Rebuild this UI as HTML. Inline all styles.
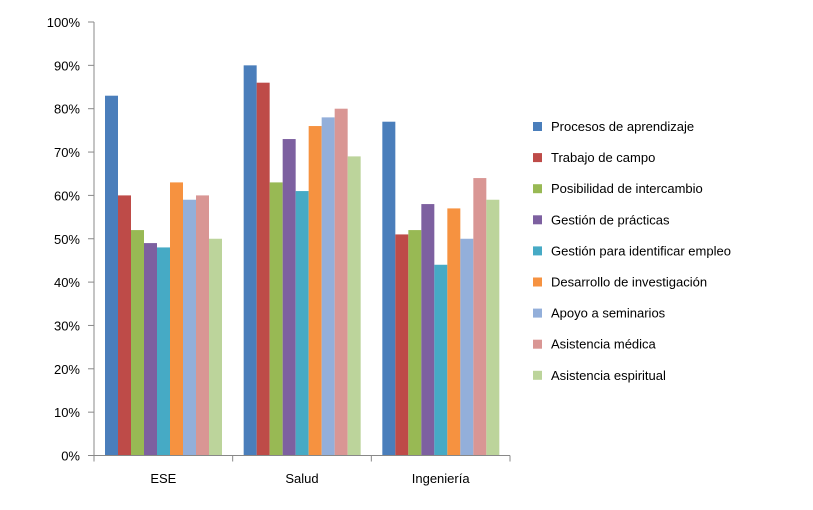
<!DOCTYPE html>
<html><head><meta charset="utf-8"><style>
body{margin:0;background:#fff;font-family:"Liberation Sans",sans-serif}
svg text{font-family:"Liberation Sans",sans-serif;font-size:13px;fill:#000}
</style></head><body>
<svg id="c" width="813" height="505"></svg>
<script>
const categories=["ESE","Salud","Ingeniería"];
const seriesNames=["Procesos de aprendizaje","Trabajo de campo","Posibilidad de intercambio","Gestión de prácticas","Gestión para identificar empleo","Desarrollo de investigación","Apoyo a seminarios","Asistencia médica","Asistencia espiritual"];
const s1=[83,90,77];
const s2=[60,86,51];
const s3=[52,63,52];
const s4=[49,73,58];
const s5=[48,61,44];
const s6=[63,76,57];
const s7=[59,78,50];
const s8=[60,80,64];
const s9=[50,69,59];
const yTicks=[0,10,20,30,40,50,60,70,80,90,100];
const series=[s1,s2,s3,s4,s5,s6,s7,s8,s9];
const colors=["#4A7EBB","#BE4B48","#98B954","#7D60A0","#46AAC5","#F69240","#93AFDA","#D99694","#BCD49B"];
const svg=document.getElementById('c');const NS="http://www.w3.org/2000/svg";
function mk(t,a,p){const e=document.createElementNS(NS,t);for(const k in a)e.setAttribute(k,a[k]);(p||svg).appendChild(e);return e;}
const x0=94,x1=510,y0=455.5,yTop=22;
const y=v=>y0-(v/100)*(y0-yTop);
const gw=(x1-x0)/categories.length;
yTicks.forEach(t=>{
 const l=mk('line',{x1:88,x2:x0,y1:y(t),y2:y(t),stroke:'#888'});
 
 
 const tx=mk('text',{x:80,y:y(t)+5,'text-anchor':'end'});tx.textContent=t+'%';
 
 
});
const bw=13,off=11;
categories.forEach((c,i)=>{
 series.forEach((s,j)=>{
  const r=mk('rect',{x:x0+i*gw+off+j*bw,y:y(s[i]),width:bw,height:y0-y(s[i]),fill:colors[j]});
  
  
 });
 const t=mk('text',{x:x0+i*gw+gw/2,y:483,'text-anchor':'middle'});t.textContent=c;
 
 
});
for(let i=0;i<=categories.length;i++){const l=mk('line',{x1:x0+i*gw,x2:x0+i*gw,y1:y0,y2:y0+6,stroke:'#888'});
 
 }
const ax=mk('line',{x1:x0,x2:x0,y1:yTop,y2:y0,stroke:'#888'});


const bx=mk('line',{x1:x0,x2:x1,y1:y0,y2:y0,stroke:'#888'});


seriesNames.forEach((n,j)=>{
 const g=mk('g',{});
 
 
 mk('rect',{x:533,y:122+j*31.1,width:9,height:9,fill:colors[j]},g);
 const t=mk('text',{x:551,y:131+j*31.1},g);t.textContent=n;
});
</script>
</body></html>
